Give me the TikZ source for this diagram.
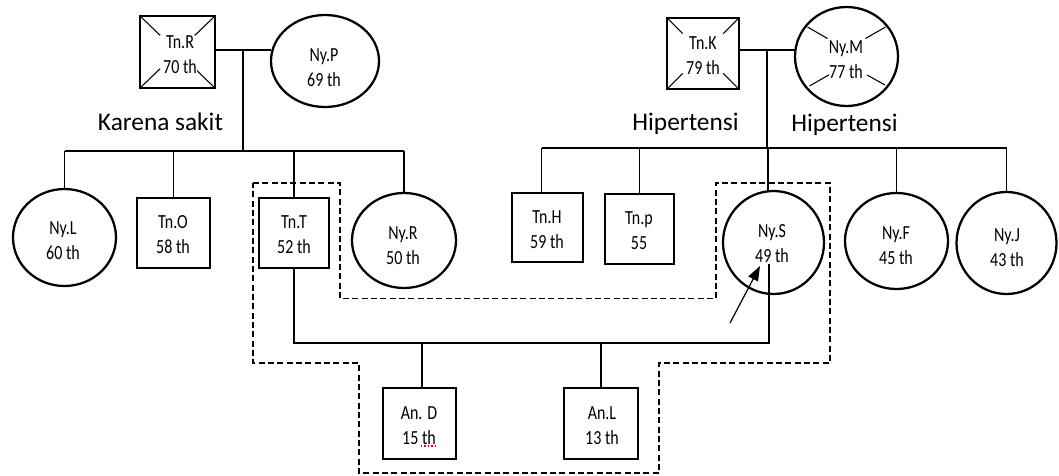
\documentclass[tikz,border=0pt]{standalone}
\usepackage{fontspec}
\setmainfont{Carlito}
\newfontfamily\boxfont[FakeStretch=0.8]{Carlito}
\usetikzlibrary{arrows.meta,calc,shapes.geometric}

\begin{document}
\begin{tikzpicture}[x=0.75pt,y=-0.75pt,
  male/.style={draw, rectangle, line width=2.1pt, inner sep=0pt, outer sep=0pt},
  female/.style={draw, ellipse, line width=1.7pt, inner sep=0pt, outer sep=0pt},
  txt/.style={font=\boxfont\fontsize{15}{18.75}\selectfont, align=center, inner sep=0pt},
  note/.style={font=\fontsize{19}{22}\selectfont, inner sep=0pt, anchor=base},
  link/.style={line width=0.9pt},
  cross/.style={line width=0.8pt},
  grp/.style={line width=1pt, dash pattern=on 4.5pt off 2.5pt},
]
\useasboundingbox (0,0) rectangle (1059,475);

% ---- generation I ----
\node[male, minimum width=56.25pt, minimum height=54pt] (tnR) at (177.5,52) {};
\node[female, minimum width=81pt, minimum height=69pt] (nyP) at (325,61) {};
\node[male, minimum width=54pt, minimum height=53.25pt] (tnK) at (703,53.5) {};
\node[female, minimum width=77.25pt, minimum height=74.25pt] (nyM) at (846.5,56.5) {};

% deceased marks
\foreach \a/\b in {north west/south east, north east/south west, south west/north east, south east/north west}{
  \draw[cross] (tnR.\a) -- ($(tnR.\a)!0.27!(tnR.\b)$);
  \draw[cross] (tnK.\a) -- ($(tnK.\a)!0.22!(tnK.\b)$);
}
\draw[cross] ($(nyM.center)+(-39,-29.5)$) -- ($(nyM.center)+(-19,-18)$);
\draw[cross] ($(nyM.center)+(39,-29.5)$) -- ($(nyM.center)+(19,-18)$);
\draw[cross] ($(nyM.center)+(-37,29.5)$) -- ($(nyM.center)+(-17,18)$);
\draw[cross] ($(nyM.center)+(38.5,28.5)$) -- ($(nyM.center)+(20.5,18.5)$);

\node[txt, fill=white] (tnRt) at (180,54.5) {Tn.R\\70 th};
\node[txt] (nyPt) at (324,68) {Ny.P\\69 th};
\node[txt, fill=white] (tnKt) at (703,55.5) {Tn.K\\79 th};
\node[txt, fill=white] (nyMt) at (846,60) {Ny.M\\77 th};

\node[note] (lk) at (160.5,130) {Karena sakit};
\node[note] (lh1) at (685.5,130) {Hipertensi};
\node[note] (lh2) at (844.5,131) {Hipertensi};

% ---- generation II ----
\node[female, minimum width=77.25pt, minimum height=72.75pt] (nyL) at (64.5,237.5) {};
\node[male, minimum width=54.75pt, minimum height=52.5pt] (tnO) at (173.5,233) {};
\node[male, minimum width=52.5pt, minimum height=52.5pt] (tnT) at (294,233) {};
\node[female, minimum width=78pt, minimum height=71.25pt] (nyR) at (404,240.5) {};
\node[male, minimum width=53.25pt, minimum height=51.75pt] (tnH) at (547.5,227.5) {};
\node[male, minimum width=51.75pt, minimum height=52.5pt] (tnP) at (639.5,229) {};
\node[female, minimum width=75.75pt, minimum height=77.25pt] (nyS) at (773.5,242.5) {};
\node[female, minimum width=77.25pt, minimum height=72pt] (nyF) at (896.5,241) {};
\node[female, minimum width=75pt, minimum height=76.5pt] (nyJ) at (1006.5,243) {};

\node[txt] (nyLt) at (63,240.5) {Ny.L\\60 th};
\node[txt] (tnOt) at (173,235) {Tn.O\\58 th};
\node[txt] (tnTt) at (294,235) {Tn.T\\52 th};
\node[txt] (nyRt) at (403,245.5) {Ny.R\\50 th};
\node[txt] (tnHt) at (547,229.5) {Tn.H\\59 th};
\node[txt] (tnPt) at (639,230.5) {Tn.p\\55};
\node[txt] (nySt) at (772,243.5) {Ny.S\\49 th};
\node[txt] (nyFt) at (896,246) {Ny.F\\45 th};
\node[txt] (nyJt) at (1007,247.5) {Ny.J\\43 th};

% ---- generation III ----
\node[male, minimum width=54.75pt, minimum height=53.25pt] (anD) at (419.5,423.5) {};
\node[male, minimum width=55.5pt, minimum height=53.25pt] (anL) at (601,423.5) {};
\node[txt] (anDt) at (419,425.5) {An. D\\15 th};
\node[txt] (anLt) at (602,425.5) {An.L\\13 th};
\draw[red, line width=0.9pt, dash pattern=on 1pt off 1.6pt] (421,446) -- (436,446);

% ---- connectors ----
\coordinate (m1) at (243,50);
\coordinate (s1) at (243,151);
\draw[link] (tnR.east |- m1) -- (nyP.west |- m1);
\draw[link] (m1) -- (s1);
\draw[link] (nyL.north |- s1) -- (nyR.north |- s1);
\foreach \n in {nyL,tnO,tnT,nyR}{
  \draw[link] (\n.north |- s1) -- (\n.north);
}

\coordinate (m2) at (767,50);
\coordinate (s2) at (767,148);
\coordinate (tnHtop) at ($(tnH.north west)!0.42!(tnH.north east)$);
\coordinate (nyStop) at ($(nyS.north)+(-5.5,0.3)$);
\draw[link] (tnK.east |- m2) -- (nyM.west |- m2);
\draw[link] (m2) -- (s2);
\draw[link] (tnHtop |- s2) -- (nyJ.north |- s2);
\draw[link] (tnHtop |- s2) -- (tnHtop);
\draw[link] (tnP.north |- s2) -- (tnP.north);
\draw[link] (nyStop |- s2) -- (nyStop);
\draw[link] (nyF.north |- s2) -- (nyF.north);
\draw[link] (nyJ.north |- s2) -- (nyJ.north);

\coordinate (nySin) at ($(nyS.center)+(-4.5,21)$);
\coordinate (cpl) at (0,343);
\coordinate (anDtop) at ($(anD.north)+(2.5,0)$);
\draw[link] (tnT.south) -- (tnT.south |- cpl) -- (nySin |- cpl) -- (nySin);
\draw[link] (anDtop |- cpl) -- (anDtop);
\draw[link] (anL.north |- cpl) -- (anL.north);

% proband arrow
\coordinate (arrS) at ($(nyS.center)+(-43.5,80.5)$);
\coordinate (arrT) at ($(nyS.center)+(-13.5,23.5)$);
\draw[line width=0.9pt, -{Triangle[length=11pt,width=8pt]}] (arrS) -- (arrT);

% household boundary
\draw[grp] (253,183) -- (340,183) -- (340,298.5) -- (716,298.5) -- (716,183)
  -- (830,183) -- (830,363) -- (659,363) -- (659,473) -- (359,473)
  -- (359,363) -- (253,363) -- cycle;
\end{tikzpicture}
\end{document}
